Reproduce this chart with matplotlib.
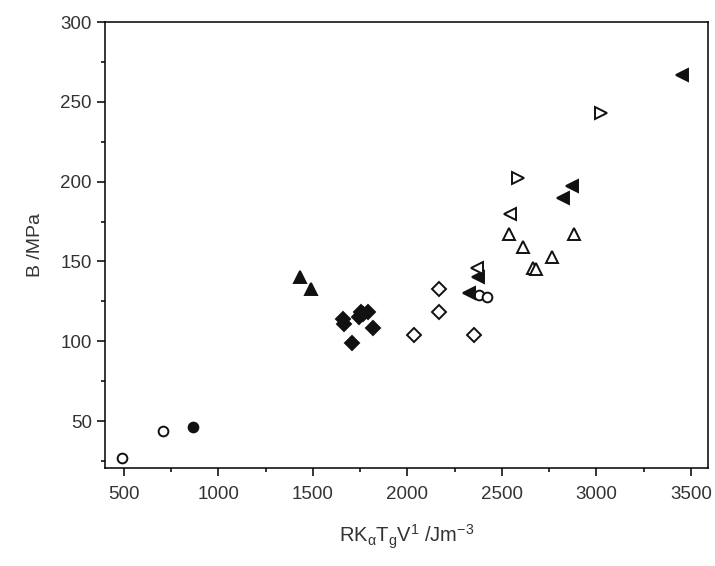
import matplotlib
matplotlib.use('Agg')
import matplotlib.pyplot as plt
from matplotlib.ticker import MultipleLocator

plt.rcParams['font.family'] = ['Liberation Sans', 'DejaVu Sans']
plt.rcParams['mathtext.fontset'] = 'custom'
plt.rcParams['mathtext.rm'] = 'Liberation Sans'
plt.rcParams['mathtext.it'] = 'Liberation Sans'

# data
open_circle_x = [490, 706, 2380, 2420]
open_circle_y = [27, 44, 129, 128]
filled_circle_x = [865]
filled_circle_y = [46]
filled_tri_up_x = [1431, 1488]
filled_tri_up_y = [140, 133]
filled_diamond_x = [1659, 1662, 1706, 1745, 1752, 1765, 1790, 1817]
filled_diamond_y = [114, 111, 99, 115, 118, 117, 118, 108]
open_diamond_x = [2034, 2167, 2167, 2352]
open_diamond_y = [104, 133, 118, 104]
filled_tri_left_x = [2325, 2373, 2823, 2871, 3452]
filled_tri_left_y = [130, 140, 190, 197, 267]
open_tri_left_x = [2368, 2542]
open_tri_left_y = [146, 180]
open_tri_up_x = [2537, 2611, 2664, 2678, 2764, 2881]
open_tri_up_y = [167, 159, 146, 145, 153, 167]
open_tri_right_x = [2585, 3024]
open_tri_right_y = [202, 243]

fig = plt.figure(figsize=(7.15, 5.66), dpi=100)
ax = fig.add_axes([0.147, 0.173, 0.843, 0.788])

ink = '#111111'
# (x, y, marker, filled, size)
series = [
    (open_circle_x, open_circle_y, 'o', False, 7),
    (filled_circle_x, filled_circle_y, 'o', True, 7),
    (filled_tri_up_x, filled_tri_up_y, '^', True, 8),
    (filled_diamond_x, filled_diamond_y, 'D', True, 7),
    (open_diamond_x, open_diamond_y, 'D', False, 7),
    (filled_tri_left_x, filled_tri_left_y, '<', True, 8),
    (open_tri_left_x, open_tri_left_y, '<', False, 8),
    (open_tri_up_x, open_tri_up_y, '^', False, 8),
    (open_tri_right_x, open_tri_right_y, '>', False, 8),
]
for x, y, m, filled, s in series:
    ax.plot(x, y, linestyle='none', marker=m, markersize=s,
            markerfacecolor=ink if filled else 'white',
            markeredgecolor=ink, markeredgewidth=1.4)

ax.set_xlim(400, 3590)
ax.set_ylim(20.5, 300)
ax.xaxis.set_major_locator(MultipleLocator(500))
ax.xaxis.set_minor_locator(MultipleLocator(250))
ax.yaxis.set_major_locator(MultipleLocator(50))
ax.yaxis.set_minor_locator(MultipleLocator(25))
ax.tick_params(which='major', direction='out', length=6, width=1.1,
               labelsize=13.5, labelcolor='#333333')
ax.tick_params(axis='x', which='major', pad=7)
ax.tick_params(which='minor', direction='out', length=3, width=1.1)
for sp in ax.spines.values():
    sp.set_linewidth(1.1)

ax.set_xlabel(r'RK$_\alpha$T$_g$V$^{1}$ /Jm$^{-3}$', fontsize=14.5,
              color='#333333', labelpad=14)
ax.set_ylabel('B /MPa', fontsize=14, color='#333333', labelpad=12)

fig.savefig('out.png', dpi=100)
